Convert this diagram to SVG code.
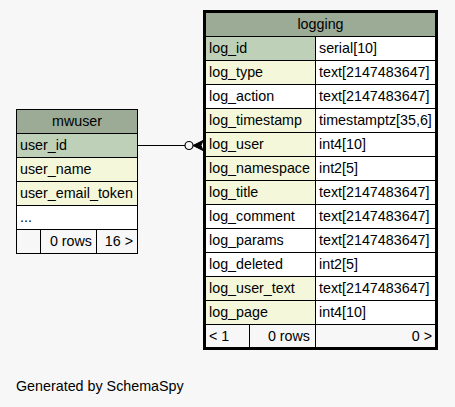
<svg xmlns="http://www.w3.org/2000/svg" width="455" height="407" viewBox="0 0 455 407">
<style>
text{font-family:"Liberation Sans",Arial,Helvetica,sans-serif;font-size:14.3px;fill:#000}
.c{stroke:#000;stroke-width:1}
.hd{fill:#9bab96}
.pk{fill:#bed1b8}
.ix{fill:#f4f7da}
.pl{fill:#ffffff}
.ft{fill:#f7f7f7}
.m{text-anchor:middle}
.e{text-anchor:end}
</style>
<rect x="0" y="0" width="455" height="407" fill="#f7f7f7"/>
<g id="connectors">
<line x1="138" y1="145.5" x2="185" y2="145.5" stroke="#000" stroke-width="1"/>
<circle cx="189" cy="145.5" r="4" fill="#f7f7f7" stroke="#000" stroke-width="1.2"/>
<polygon points="193,145.5 203,140.5 201,145.5 203,150.5" fill="#000" stroke="#000" stroke-width="1"/>
</g>
<g id="mwuser">
<rect class="c hd" x="16.5" y="109.5" width="121" height="24"/>
<text class="m" x="77" y="126">mwuser</text>
<rect class="c pk" x="16.5" y="133.5" width="121" height="24"/>
<text x="20" y="150">user_id</text>
<rect class="c ix" x="16.5" y="157.5" width="121" height="24"/>
<text x="20" y="174">user_name</text>
<rect class="c ix" x="16.5" y="181.5" width="121" height="24"/>
<text x="20" y="198">user_email_token</text>
<rect class="c pl" x="16.5" y="205.5" width="121" height="24"/>
<text x="20" y="222">...</text>
<rect class="c ft" x="16.5" y="229.5" width="24" height="24"/>
<rect class="c ft" x="40.5" y="229.5" width="56" height="24"/>
<rect class="c ft" x="96.5" y="229.5" width="41" height="24"/>
<text class="e" x="92" y="246">0 rows</text>
<text class="e" x="133" y="246">16 &gt;</text>
</g>
<g id="logging">
<rect x="204" y="11" width="233" height="338" fill="#ffffff" stroke="#000" stroke-width="2"/>
<rect class="c hd" x="205.5" y="12.5" width="230" height="24"/>
<text class="m" x="320.5" y="29">logging</text>
<rect class="c pk" x="205.5" y="36.5" width="110" height="24"/><rect class="c pl" x="315.5" y="36.5" width="120" height="24"/>
<text x="209" y="53">log_id</text><text x="319" y="53">serial[10]</text>
<rect class="c ix" x="205.5" y="60.5" width="110" height="24"/><rect class="c pl" x="315.5" y="60.5" width="120" height="24"/>
<text x="209" y="77">log_type</text><text x="319" y="77">text[2147483647]</text>
<rect class="c pl" x="205.5" y="84.5" width="110" height="24"/><rect class="c pl" x="315.5" y="84.5" width="120" height="24"/>
<text x="209" y="101">log_action</text><text x="319" y="101">text[2147483647]</text>
<rect class="c ix" x="205.5" y="108.5" width="110" height="24"/><rect class="c pl" x="315.5" y="108.5" width="120" height="24"/>
<text x="209" y="125">log_timestamp</text><text x="319" y="125">timestamptz[35,6]</text>
<rect class="c ix" x="205.5" y="132.5" width="110" height="24"/><rect class="c pl" x="315.5" y="132.5" width="120" height="24"/>
<text x="209" y="149">log_user</text><text x="319" y="149">int4[10]</text>
<rect class="c ix" x="205.5" y="156.5" width="110" height="24"/><rect class="c pl" x="315.5" y="156.5" width="120" height="24"/>
<text x="209" y="173">log_namespace</text><text x="319" y="173">int2[5]</text>
<rect class="c ix" x="205.5" y="180.5" width="110" height="24"/><rect class="c pl" x="315.5" y="180.5" width="120" height="24"/>
<text x="209" y="197">log_title</text><text x="319" y="197">text[2147483647]</text>
<rect class="c pl" x="205.5" y="204.5" width="110" height="24"/><rect class="c pl" x="315.5" y="204.5" width="120" height="24"/>
<text x="209" y="221">log_comment</text><text x="319" y="221">text[2147483647]</text>
<rect class="c pl" x="205.5" y="228.5" width="110" height="24"/><rect class="c pl" x="315.5" y="228.5" width="120" height="24"/>
<text x="209" y="245">log_params</text><text x="319" y="245">text[2147483647]</text>
<rect class="c pl" x="205.5" y="252.5" width="110" height="24"/><rect class="c pl" x="315.5" y="252.5" width="120" height="24"/>
<text x="209" y="269">log_deleted</text><text x="319" y="269">int2[5]</text>
<rect class="c ix" x="205.5" y="276.5" width="110" height="24"/><rect class="c pl" x="315.5" y="276.5" width="120" height="24"/>
<text x="209" y="293">log_user_text</text><text x="319" y="293">text[2147483647]</text>
<rect class="c ix" x="205.5" y="300.5" width="110" height="24"/><rect class="c pl" x="315.5" y="300.5" width="120" height="24"/>
<text x="209" y="317">log_page</text><text x="319" y="317">int4[10]</text>
<rect class="c ft" x="205.5" y="324.5" width="44" height="23"/>
<rect class="c ft" x="249.5" y="324.5" width="66" height="23"/>
<rect class="c ft" x="315.5" y="324.5" width="120" height="23"/>
<text x="209" y="341">&lt; 1</text>
<text class="e" x="310" y="341">0 rows</text>
<text class="e" x="432" y="341">0 &gt;</text>
</g>
<text x="16" y="391">Generated by SchemaSpy</text>
</svg>
